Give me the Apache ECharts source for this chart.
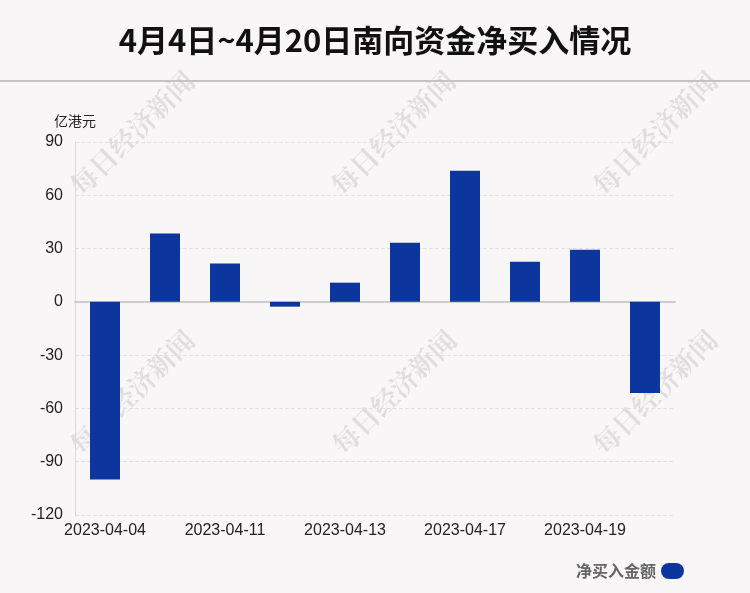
<!DOCTYPE html>
<html><head><meta charset="utf-8">
<script src="https://cdn.jsdelivr.net/npm/echarts@6/dist/echarts.min.js"></script>
<style>html,body{margin:0;padding:0;background:#f9f6f7;}#c{width:750px;height:593px;}</style>
</head><body><div id="c"></div>
<script>
var categories = ['2023-04-04','2023-04-06','2023-04-11','2023-04-12','2023-04-13','2023-04-14','2023-04-17','2023-04-18','2023-04-19','2023-04-20'];
var values = [-100, 38.5, 21.6, -2.7, 10.8, 33.3, 73.8, 22.6, 29.4, -51.3];
var yTicks = [-120, -90, -60, -30, 0, 30, 60, 90];
var seriesName = '净买入金额';

var chart = echarts.init(document.getElementById('c'));
var wmPos = [[132,133],[393,133],[655,133],[132,392],[394,392],[655,392]];
var graphics = wmPos.map(function(p){
  return {type:'text', x:p[0], y:p[1], rotation:Math.PI/4, z:0, silent:true,
    style:{text:'每日经济新闻', fill:'rgba(0,0,0,0.1)', font:'bold 27px "Noto Serif CJK SC","Noto Sans CJK SC",serif', align:'center', verticalAlign:'middle'}};
});
graphics.push({type:'rect', shape:{x:0,y:80,width:750,height:2}, style:{fill:'#c4c2c3'}, silent:true});
chart.setOption({
  backgroundColor:'#f9f6f7',
  title:{text:'4月4日~4月20日南向资金净买入情况', left:'center', top:20,
    textStyle:{fontSize:31, fontWeight:'bold', color:'#111', fontFamily:'"Noto Sans CJK SC", sans-serif'}},
  graphic: graphics,
  legend:{data:[seriesName], right:61, bottom:9, align:'right', itemWidth:23, itemHeight:16, itemGap:5,
    icon:'path://M8,0 L15,0 A8,8 0 0 1 15,16 L8,16 A8,8 0 0 1 8,0 Z',
    textStyle:{fontSize:16, color:'#666', fontWeight:'bold', fontFamily:'"Noto Sans CJK SC", sans-serif'}},
  grid:{left:75, right:75, top:142, bottom:78, containLabel:false},
  xAxis:{type:'category', data:categories,
    axisLine:{onZero:true, lineStyle:{color:'#cccccc', width:2}},
    axisTick:{show:false},
    axisLabel:{interval:1, fontSize:16, color:'#222', margin:8, fontFamily:'Liberation Sans, Arial, sans-serif'}},
  yAxis:{type:'value', min:yTicks[0], max:yTicks[yTicks.length-1], interval:30,
    name:'亿港元', nameLocation:'end', nameGap:14,
    nameTextStyle:{fontSize:14, color:'#222', align:'right', padding:[0,-21,0,0], fontFamily:'"Noto Sans CJK SC", sans-serif'},
    axisLine:{show:true, lineStyle:{color:'#d8d8d8', width:1}},
    axisTick:{show:false},
    axisLabel:{fontSize:16, color:'#222', margin:12, fontFamily:'Liberation Sans, Arial, sans-serif'},
    splitLine:{show:true, lineStyle:{type:'dashed', color:'#e3e0e1'}}},
  series:[{name:seriesName, type:'bar', data:values, barWidth:30, itemStyle:{color:'#0c359e'}}]
});
</script></body></html>
